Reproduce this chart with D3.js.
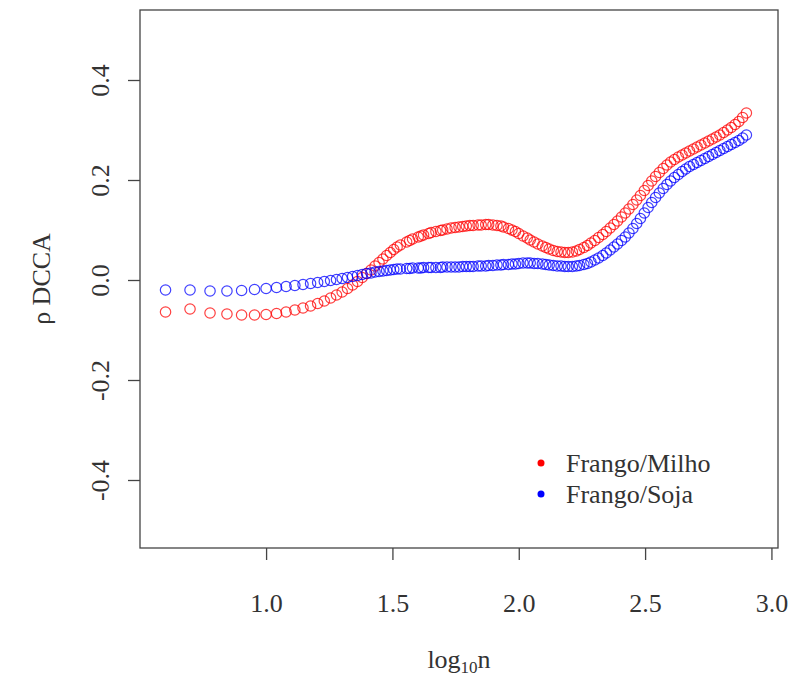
<!DOCTYPE html>
<html><head><meta charset="utf-8">
<script src="https://cdn.jsdelivr.net/npm/d3@7"></script>
<style>body{margin:0;background:#fff}svg{display:block}</style>
</head><body>
<script>
// window sizes n (x is log10 n)
const nValues = [4,5,6,7,8,9,10,11,12,13,14,15,16,17,18,19,20,21,22,23,24,25,26,27,28,
 29,30,31,32,33,34,36,37,38,40,41,42,44,45,47,49,50,52,54,56,58,60,62,64,66,69,71,74,76,79,82,85,87,91,94,97,
 100,104,108,111,115,119,124,128,132,137,142,147,152,157,163,169,174,181,187,193,200,207,215,222,230,238,246,255,264,273,283,293,
 303,314,325,336,348,360,373,386,399,413,428,443,458,474,491,508,526,545,564,584,604,625,647,670,693,718,743,769,796];

const milho = [-0.064,-0.058,-0.066,-0.068,-0.070,-0.070,-0.069,-0.067,-0.064,-0.060,-0.056,-0.052,-0.047,-0.042,-0.036,-0.030,-0.024,-0.017,-0.010,-0.003,0.005,0.013,0.020,0.028,0.035,
 0.042,0.049,0.055,0.061,0.066,0.070,0.076,0.079,0.082,0.086,0.088,0.090,0.093,0.095,0.097,0.099,0.100,0.102,0.104,0.105,0.106,0.107,0.108,0.109,0.109,0.110,0.110,0.111,0.111,0.110,0.109,0.108,0.106,0.103,0.100,0.097,
 0.093,0.088,0.084,0.080,0.076,0.072,0.068,0.065,0.062,0.059,0.057,0.056,0.055,0.055,0.056,0.058,0.061,0.065,0.069,0.074,0.079,0.085,0.091,0.097,0.104,0.111,0.118,0.126,0.134,0.142,0.151,0.160,
 0.169,0.179,0.189,0.198,0.207,0.215,0.223,0.230,0.236,0.241,0.246,0.250,0.254,0.258,0.262,0.266,0.270,0.274,0.278,0.282,0.286,0.290,0.295,0.300,0.305,0.311,0.317,0.325,0.334];

const soja = [-0.020,-0.020,-0.022,-0.022,-0.021,-0.019,-0.017,-0.015,-0.013,-0.011,-0.009,-0.007,-0.005,-0.003,-0.001,0.001,0.003,0.005,0.007,0.009,0.011,0.013,0.014,0.016,0.017,
 0.018,0.019,0.020,0.021,0.022,0.022,0.023,0.023,0.024,0.024,0.024,0.025,0.025,0.025,0.025,0.025,0.026,0.026,0.026,0.026,0.026,0.027,0.027,0.027,0.027,0.028,0.028,0.028,0.029,0.029,0.030,0.030,0.031,0.031,0.032,0.032,
 0.033,0.034,0.034,0.034,0.033,0.033,0.032,0.031,0.030,0.029,0.028,0.028,0.027,0.027,0.027,0.028,0.029,0.031,0.033,0.036,0.040,0.044,0.049,0.054,0.060,0.066,0.072,0.079,0.086,0.094,0.103,0.113,
 0.123,0.134,0.145,0.155,0.165,0.174,0.183,0.191,0.198,0.205,0.211,0.217,0.222,0.227,0.231,0.235,0.239,0.243,0.247,0.251,0.255,0.259,0.263,0.267,0.271,0.275,0.279,0.284,0.290];

const xTicks = [1.0, 1.5, 2.0, 2.5, 3.0];
const yTicks = [-0.4, -0.2, 0.0, 0.2, 0.4];
const seriesNames = ["Frango/Milho", "Frango/Soja"];
const seriesColors = ["#ff0000", "#0000ff"];

const W = 788, H = 677;
const mLeft = 140, mRight = 778, mTop = 10, mBottom = 548;
const font = "'Liberation Serif','Times New Roman',serif";
const fs = 26;
const txtCol = "#333";

const svg = d3.select("body").append("svg").attr("width", W).attr("height", H);

const x = d3.scaleLinear().domain([0.501, 3.026]).range([mLeft, mRight]);
const y = d3.scaleLinear().domain([-0.536, 0.54]).range([mBottom, mTop]);
const fmt = d => d.toFixed(1);

// box
svg.append("rect").attr("x", mLeft).attr("y", mTop).attr("width", mRight - mLeft).attr("height", mBottom - mTop)
  .attr("fill", "none").attr("stroke", "#444").attr("stroke-width", 1.3);

// axes
const xAxis = svg.append("g").attr("transform", `translate(0,${mBottom})`)
  .call(d3.axisBottom(x).tickValues(xTicks).tickFormat(fmt).tickSize(12).tickPadding(43));
const yAxis = svg.append("g").attr("transform", `translate(${mLeft},0)`)
  .call(d3.axisLeft(y).tickValues(yTicks).tickFormat(fmt).tickSize(12));
[xAxis, yAxis].forEach(a => {
  a.select(".domain").remove();
  a.selectAll(".tick line").attr("stroke", "#444").attr("stroke-width", 1.3);
  a.selectAll("text").attr("font-family", font).attr("font-size", fs).attr("fill", txtCol);
});
xAxis.selectAll("text").attr("dy", "0.35em");
yAxis.selectAll(".tick text")
  .attr("x", null).attr("dy", "0.35em")
  .attr("text-anchor", "middle")
  .attr("transform", "translate(-40,0) rotate(-90)");

// axis titles
const xl = svg.append("text").attr("x", 459).attr("y", 668)
  .attr("text-anchor", "middle").attr("font-family", font).attr("font-size", fs).attr("fill", txtCol);
xl.append("tspan").text("log");
xl.append("tspan").text("10").attr("font-size", 17).attr("dy", 5);
xl.append("tspan").text("n").attr("dy", -5);

svg.append("text").attr("transform", `translate(41,${(mTop + mBottom) / 2}) rotate(-90)`)
  .attr("text-anchor", "middle").attr("dy", "0.35em").attr("font-family", font).attr("font-size", fs).attr("fill", txtCol)
  .text("ρ DCCA");

// points
const series = [milho, soja];
series.forEach((vals, i) => {
  svg.append("g").selectAll("circle").data(vals).join("circle")
    .attr("cx", (d, j) => x(Math.log10(nValues[j])))
    .attr("cy", d => y(d))
    .attr("r", 5.2)
    .attr("fill", "none")
    .attr("stroke", seriesColors[i])
    .attr("stroke-opacity", 0.75)
    .attr("stroke-width", 1.2);
});

// legend
const lg = svg.append("g");
seriesNames.forEach((name, i) => {
  const ly = 463 + i * 31;
  lg.append("circle").attr("cx", 541).attr("cy", ly).attr("r", 3.5).attr("fill", seriesColors[i]);
  lg.append("text").attr("x", 566).attr("y", ly).attr("dy", "0.35em")
    .attr("font-family", font).attr("font-size", fs).attr("fill", txtCol).text(name);
});
</script>
</body></html>
